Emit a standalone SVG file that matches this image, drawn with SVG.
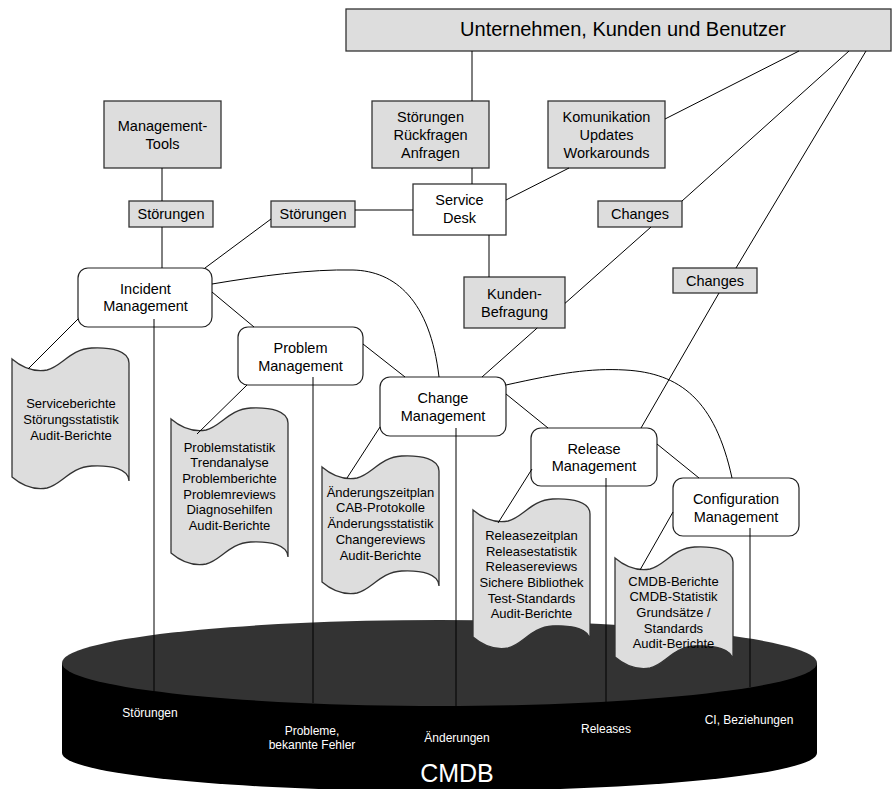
<svg xmlns="http://www.w3.org/2000/svg" width="892" height="789" viewBox="0 0 892 789">
  <style>
    text { font-family: "Liberation Sans", Arial, sans-serif; fill: #000; text-anchor: middle; }
    .lbl { font-size: 14.5px; }
    .doc-t { font-size: 13px; }
    .db-t { font-size: 12px; fill: #fff; }
    .grey { fill: #dddddd; stroke: #333; stroke-width: 1.3; }
    .white { fill: #fff; stroke: #333; stroke-width: 1.3; }
    .proc { fill: #fff; stroke: #222; stroke-width: 1.2; }
    .doc { fill: #dddddd; stroke: #333; stroke-width: 1.3; }
    .conn line, .conn path { stroke: #000; stroke-width: 1; fill: none; }
  </style>

  <!-- CMDB cylinder -->
  <g id="cmdb">
    <path d="M62,663 L62,753 A377.5,38 0 0 0 817,753 L817,663 Z" fill="#000"/>
    <ellipse cx="439.5" cy="663" rx="377.5" ry="43" fill="#333"/>
    <text class="db-t" x="150" y="717">Störungen</text>
    <text class="db-t" x="312" y="735">Probleme,</text>
    <text class="db-t" x="312" y="749">bekannte Fehler</text>
    <text class="db-t" x="457" y="742">Änderungen</text>
    <text class="db-t" x="606" y="733">Releases</text>
    <text class="db-t" x="749" y="724">CI, Beziehungen</text>
    <text x="457" y="782" style="font-size:25px;fill:#fff">CMDB</text>
  </g>

  <!-- report documents -->
  <g id="doc-incident">
    <path class="doc" transform="translate(12,359)" d="M0,0 C11.7,10 23.4,13 35.1,11 C49.1,8 58.5,-10 79.6,-11 C99.5,-12 117,-8 117,4 L117,122 C117,110 99.5,106 79.6,107 C58.5,108 49.1,126 35.1,129 C23.4,131 11.7,128 0,118 Z"/>
    <text class="doc-t" x="71" y="408">Serviceberichte</text>
    <text class="doc-t" x="71" y="424">Störungsstatistik</text>
    <text class="doc-t" x="71" y="440">Audit-Berichte</text>
  </g>
  <g id="doc-problem">
    <path class="doc" transform="translate(171,419)" d="M0,0 C11.7,10 23.4,13 35.1,11 C49.1,8 58.5,-10 79.6,-11 C99.5,-12 117,-8 117,4 L117,138 C117,126 99.5,122 79.6,123 C58.5,124 49.1,142 35.1,145 C23.4,147 11.7,144 0,134 Z"/>
    <text class="doc-t" x="229.5" y="451.5">Problemstatistik</text>
    <text class="doc-t" x="229.5" y="467.2">Trendanalyse</text>
    <text class="doc-t" x="229.5" y="483">Problemberichte</text>
    <text class="doc-t" x="229.5" y="498.6">Problemreviews</text>
    <text class="doc-t" x="229.5" y="514.3">Diagnosehilfen</text>
    <text class="doc-t" x="229.5" y="530">Audit-Berichte</text>
  </g>
  <g id="doc-change">
    <path class="doc" transform="translate(322,467)" d="M0,0 C11.7,10 23.4,13 35.1,11 C49.1,8 58.5,-10 79.6,-11 C99.5,-12 117,-8 117,4 L117,119 C117,107 99.5,103 79.6,104 C58.5,105 49.1,123 35.1,126 C23.4,128 11.7,125 0,115 Z"/>
    <text class="doc-t" x="380.5" y="496.5">Änderungszeitplan</text>
    <text class="doc-t" x="380.5" y="512.3">CAB-Protokolle</text>
    <text class="doc-t" x="380.5" y="528">Änderungsstatistik</text>
    <text class="doc-t" x="380.5" y="544">Changereviews</text>
    <text class="doc-t" x="380.5" y="560">Audit-Berichte</text>
  </g>
  <g id="doc-release">
    <path class="doc" transform="translate(473,510)" d="M0,0 C11.7,10 23.4,13 35.1,11 C49.1,8 58.5,-10 79.6,-11 C99.5,-12 117,-8 117,4 L117,131 C117,119 99.5,115 79.6,116 C58.5,117 49.1,135 35.1,138 C23.4,140 11.7,137 0,127 Z"/>
    <text class="doc-t" x="531.5" y="540">Releasezeitplan</text>
    <text class="doc-t" x="531.5" y="555.7">Releasestatistik</text>
    <text class="doc-t" x="531.5" y="571.3">Releasereviews</text>
    <text class="doc-t" x="531.5" y="586.9">Sichere Bibliothek</text>
    <text class="doc-t" x="531.5" y="602.5">Test-Standards</text>
    <text class="doc-t" x="531.5" y="618">Audit-Berichte</text>
  </g>
  <g id="doc-config">
    <path class="doc" transform="translate(615,558)" d="M0,0 C11.7,10 23.4,13 35.1,11 C49.1,8 58.5,-10 79.6,-11 C99.5,-12 118,-8 118,4 L118,103 C118,91 99.5,87 79.6,88 C58.5,89 49.1,107 35.1,110 C23.4,112 11.7,109 0,99 Z"/>
    <text class="doc-t" x="673.5" y="585.7">CMDB-Berichte</text>
    <text class="doc-t" x="673.5" y="601.3">CMDB-Statistik</text>
    <text class="doc-t" x="673.5" y="617">Grundsätze /</text>
    <text class="doc-t" x="673.5" y="632.5">Standards</text>
    <text class="doc-t" x="673.5" y="648.2">Audit-Berichte</text>
  </g>

  <!-- parties and information boxes -->
  <g id="business">
    <rect class="grey" x="346" y="9" width="545" height="42"/>
    <text x="623" y="36" style="font-size:20px">Unternehmen, Kunden und Benutzer</text>
  </g>
  <g id="mgmt-tools">
    <rect class="grey" x="104" y="101" width="117" height="67"/>
    <text class="lbl" x="162.5" y="131">Management-</text>
    <text class="lbl" x="162.5" y="149">Tools</text>
  </g>
  <g id="requests">
    <rect class="grey" x="372" y="101" width="117" height="67"/>
    <text class="lbl" x="430.5" y="122">Störungen</text>
    <text class="lbl" x="430.5" y="140">Rückfragen</text>
    <text class="lbl" x="430.5" y="158">Anfragen</text>
  </g>
  <g id="communication">
    <rect class="grey" x="548" y="101" width="117" height="67"/>
    <text class="lbl" x="606.5" y="122">Komunikation</text>
    <text class="lbl" x="606.5" y="140">Updates</text>
    <text class="lbl" x="606.5" y="158">Workarounds</text>
  </g>
  <g id="incidents-tools">
    <rect class="grey" x="129" y="201" width="84" height="26"/>
    <text class="lbl" x="171" y="219">Störungen</text>
  </g>
  <g id="incidents-desk">
    <rect class="grey" x="271" y="201" width="84" height="26"/>
    <text class="lbl" x="313" y="219">Störungen</text>
  </g>
  <g id="service-desk">
    <rect class="white" x="413" y="184" width="93" height="51"/>
    <text class="lbl" x="459.5" y="205">Service</text>
    <text class="lbl" x="459.5" y="223">Desk</text>
  </g>
  <g id="changes-1">
    <rect class="grey" x="598" y="201" width="84" height="26"/>
    <text class="lbl" x="640" y="219">Changes</text>
  </g>
  <g id="changes-2">
    <rect class="grey" x="673" y="268" width="84" height="25"/>
    <text class="lbl" x="715" y="286">Changes</text>
  </g>
  <g id="survey">
    <rect class="grey" x="464" y="277" width="101" height="51"/>
    <text class="lbl" x="514.5" y="299">Kunden-</text>
    <text class="lbl" x="514.5" y="317">Befragung</text>
  </g>

  <!-- management processes -->
  <g id="incident-mgmt">
    <rect class="proc" x="78" y="268" width="134" height="59" rx="10"/>
    <text class="lbl" x="145.5" y="294">Incident</text>
    <text class="lbl" x="145.5" y="311">Management</text>
  </g>
  <g id="problem-mgmt">
    <rect class="proc" x="238" y="327" width="125" height="58" rx="10"/>
    <text class="lbl" x="300.5" y="353">Problem</text>
    <text class="lbl" x="300.5" y="371">Management</text>
  </g>
  <g id="change-mgmt">
    <rect class="proc" x="380" y="377" width="126" height="59" rx="10"/>
    <text class="lbl" x="443" y="403">Change</text>
    <text class="lbl" x="443" y="421">Management</text>
  </g>
  <g id="release-mgmt">
    <rect class="proc" x="531" y="428" width="126" height="58" rx="10"/>
    <text class="lbl" x="594" y="454">Release</text>
    <text class="lbl" x="594" y="471">Management</text>
  </g>
  <g id="config-mgmt">
    <rect class="proc" x="673" y="478" width="126" height="58" rx="10"/>
    <text class="lbl" x="736" y="504">Configuration</text>
    <text class="lbl" x="736" y="522">Management</text>
  </g>

  <!-- connectors -->
  <g id="connectors" class="conn">
    <line x1="472" y1="51" x2="472" y2="101"/>
    <line x1="472" y1="168" x2="472" y2="184"/>
    <line x1="665" y1="119" x2="799" y2="51"/>
    <line x1="569" y1="168" x2="506" y2="200"/>
    <line x1="682" y1="201" x2="849" y2="51"/>
    <line x1="736" y1="268" x2="866" y2="51"/>
    <line x1="413" y1="210" x2="355" y2="210"/>
    <line x1="271" y1="219" x2="205" y2="268"/>
    <line x1="162" y1="168" x2="162" y2="201"/>
    <line x1="162" y1="227" x2="162" y2="268"/>
    <line x1="489" y1="235" x2="489" y2="277"/>
    <line x1="651" y1="227" x2="565" y2="303.3"/>
    <line x1="537.2" y1="328" x2="482" y2="377"/>
    <line x1="719" y1="293" x2="641" y2="428"/>
    <line x1="212" y1="292" x2="254" y2="327"/>
    <path d="M212,284 C260,276 310,269 353,270 C395,271 430,300 439,377"/>
    <line x1="363" y1="344" x2="405" y2="377"/>
    <line x1="506" y1="394" x2="548" y2="428"/>
    <line x1="657" y1="444" x2="699" y2="478"/>
    <path d="M506,385 C560,373 590,368 625,370 C680,373 715,400 732,478"/>
    <line x1="78" y1="319" x2="28" y2="369"/>
    <line x1="247" y1="385" x2="197" y2="434"/>
    <line x1="380" y1="427" x2="347" y2="478"/>
    <line x1="532" y1="469" x2="498" y2="523"/>
    <line x1="673" y1="512" x2="640" y2="570"/>
    <line x1="154" y1="319" x2="154" y2="691"/>
    <line x1="313" y1="377" x2="313" y2="703"/>
    <line x1="456" y1="428" x2="456" y2="706"/>
    <line x1="606" y1="478" x2="606" y2="702"/>
    <line x1="750" y1="528" x2="750" y2="687"/>
  </g>
</svg>
